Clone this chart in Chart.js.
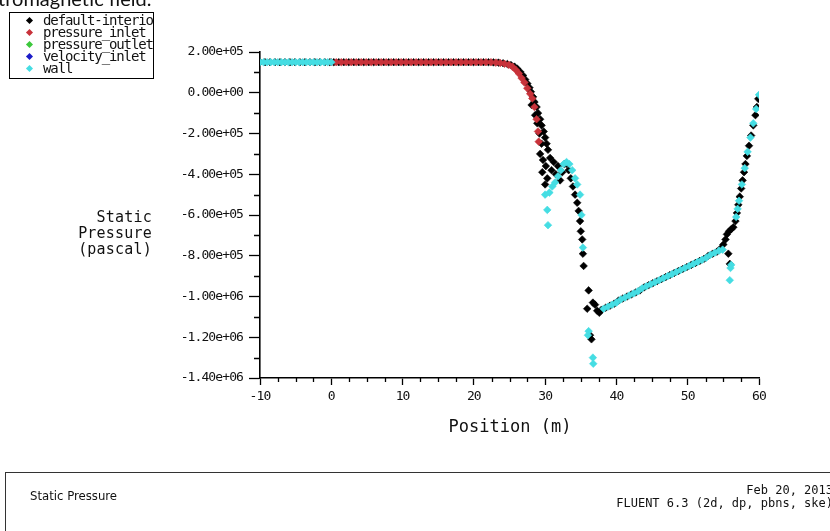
<!DOCTYPE html>
<html>
<head>
<meta charset="utf-8">
<script src="https://cdn.jsdelivr.net/npm/chart.js@4.4.1/dist/chart.umd.min.js"></script>
<style>
html,body{margin:0;padding:0;background:#fff;width:830px;height:531px;overflow:hidden;position:relative;}
canvas{position:absolute;left:0;top:0;}
.abs{position:absolute;white-space:nowrap;color:#111;}
#hdr{left:-2px;top:-12px;font-family:Lato,'Open Sans',sans-serif;font-size:20px;line-height:20px;color:#111;}
#legend{left:9px;top:12px;width:143px;height:65px;border:1.5px solid #000;overflow:hidden;background:#fff;}
.lrow{position:absolute;left:0;height:12px;width:143px;}
.lmk{position:absolute;left:17px;top:3px;width:5px;height:5px;transform:rotate(45deg);}
.ltx{position:absolute;left:33px;top:-3px;font-family:'DejaVu Sans Mono',monospace;font-size:14px;line-height:16px;letter-spacing:-1.1px;color:#111;}
#ytitle{left:40px;top:209px;width:112px;text-align:right;font-family:'DejaVu Sans Mono',monospace;font-size:15px;line-height:16px;letter-spacing:0.2px;}
#xtitle{left:410px;top:416px;width:200px;text-align:center;font-family:'DejaVu Sans Mono',monospace;font-size:17px;line-height:20px;}
#footer{left:5px;top:472px;width:840px;height:80px;border:1.5px solid #333;}
#fl{left:30px;top:488px;font-family:'Liberation Sans Narrow','DejaVu Sans Condensed',sans-serif;font-size:13px;line-height:16px;}
#fr{right:-3px;top:484px;text-align:right;font-family:'DejaVu Sans Mono',monospace;font-size:12px;line-height:13px;}
</style>
</head>
<body>
<canvas id="c" width="830" height="531"></canvas>
<div id="hdr" class="abs">tromagnetic field.</div>
<div id="legend" class="abs"></div>
<div id="ytitle" class="abs">Static<br>Pressure<br>(pascal)</div>
<div id="xtitle" class="abs">Position (m)</div>
<div id="footer" class="abs"></div>
<div id="fl" class="abs">Static Pressure</div>
<div id="fr" class="abs">Feb 20, 2013<br>FLUENT 6.3 (2d, dp, pbns, ske)</div>
<script>
// ---- series names / colours ----
const seriesNames = ['default-interior','pressure_inlet','pressure_outlet','velocity_inlet','wall'];
const seriesColors = ['#000000','#c8323a','#3cc83c','#1c1cc8','#45dde3'];

// ---- axis ----
const xMin = -10, xMax = 60, xStep = 10, xMinorStep = 2.5;
const yMin = -1.4e6, yMax = 2e5, yStep = 2e5, yMinorStep = 1e5;

// ---- default-interior (black) ----
const interiorX = [
 -10,-9.3,-8.6,-7.9,-7.2,-6.5,-5.8,-5.1,-4.4,-3.7,-3.0,-2.3,-1.6,-0.9,-0.2,0.35,1.05,1.75,2.45,3.15,3.85,4.55,5.25,5.95,6.65,7.35,8.05,8.75,9.45,10.15,10.85,11.55,12.25,12.95,13.65,14.35,15.05,15.75,16.45,17.15,17.85,18.55,19.25,19.95,20.65,21.35,22.05,22.75,23.45,
 24.1,24.7,25.2,25.7,26.1,26.5,26.9,27.2,27.5,27.8,28.0,28.3,28.5,28.8,29.0,29.3,29.5,29.8,30.0,30.2,30.4,
 28.1,28.6,28.9,29.2,29.5,29.3,29.7,30.1,29.6,30.3,30.0,30.7,30.9,31.2,31.5,31.8,32.1,32.4,32.7,33.0,33.3,33.6,33.9,34.2,34.5,34.7,34.9,35.0,35.2,35.3,35.4,36.1,35.9,36.3,36.5,36.7,37.0,37.3,37.6,
 37.9,38.5,39.1,39.7,40.3,40.9,41.5,42.1,42.7,43.3,43.9,44.5,45.1,45.7,46.3,46.9,47.5,48.1,48.7,49.3,49.9,50.5,51.1,51.7,52.3,52.9,53.5,54.1,54.6,55.0,55.3,55.5,55.8,56.1,56.4,55.7,55.9,
 56.7,56.9,57.1,57.3,57.5,57.7,57.9,58.1,58.3,58.6,58.9,59.2,59.5,59.7,59.9
];
const interiorY = [
 1.5e5,1.5e5,1.5e5,1.5e5,1.5e5,1.5e5,1.5e5,1.5e5,1.5e5,1.5e5,1.5e5,1.5e5,1.5e5,1.5e5,1.5e5,1.5e5,1.5e5,1.5e5,1.5e5,1.5e5,1.5e5,1.5e5,1.5e5,1.5e5,1.5e5,1.5e5,1.5e5,1.5e5,1.5e5,1.5e5,1.5e5,1.5e5,1.5e5,1.5e5,1.5e5,1.5e5,1.5e5,1.5e5,1.5e5,1.5e5,1.5e5,1.5e5,1.5e5,1.5e5,1.5e5,1.5e5,1.5e5,1.49e5,1.48e5,
 1.45e5,1.41e5,1.36e5,1.28e5,1.18e5,1.03e5,8.5e4,6.5e4,4.5e4,2.5e4,5e3,-2e4,-4.5e4,-7e4,-1.0e5,-1.3e5,-1.6e5,-1.9e5,-2.2e5,-2.5e5,-2.8e5,
 -6e4,-1.1e5,-1.5e5,-2.0e5,-2.5e5,-3.0e5,-3.3e5,-3.6e5,-3.9e5,-4.2e5,-4.5e5,-3.2e5,-3.8e5,-3.4e5,-4.0e5,-3.6e5,-4.3e5,-3.9e5,-3.5e5,-3.5e5,-3.8e5,-4.2e5,-4.6e5,-5.0e5,-5.4e5,-5.8e5,-6.3e5,-6.8e5,-7.2e5,-7.9e5,-8.5e5,-9.7e5,-1.06e6,-1.19e6,-1.21e6,-1.03e6,-1.04e6,-1.07e6,-1.08e6,
 -1.065e6,-1.055e6,-1.045e6,-1.035e6,-1.02e6,-1.01e6,-1.0e6,-9.9e5,-9.8e5,-9.7e5,-9.55e5,-9.45e5,-9.35e5,-9.25e5,-9.15e5,-9.05e5,-8.95e5,-8.85e5,-8.75e5,-8.65e5,-8.55e5,-8.45e5,-8.35e5,-8.25e5,-8.15e5,-8.0e5,-7.9e5,-7.8e5,-7.65e5,-7.45e5,-7.2e5,-6.95e5,-6.8e5,-6.7e5,-6.6e5,-7.9e5,-8.4e5,
 -6.3e5,-5.9e5,-5.5e5,-5.1e5,-4.7e5,-4.3e5,-3.9e5,-3.5e5,-3.1e5,-2.6e5,-2.1e5,-1.6e5,-1.1e5,-7e4,-3e4
];

// ---- pressure_inlet (red) ----
const inletX = [
 0,0.7,1.4,2.1,2.8,3.5,4.2,4.9,5.6,6.3,7.0,7.7,8.4,9.1,9.8,10.5,11.2,11.9,12.6,13.3,14.0,14.7,15.4,16.1,16.8,17.5,18.2,18.9,19.6,20.3,21.0,21.7,22.4,
 23.1,23.7,24.3,24.9,25.4,25.9,26.3,26.7,27.1,27.5,27.9,28.2,28.5,28.8,29.0,29.1
];
const inletY = [
 1.5e5,1.5e5,1.5e5,1.5e5,1.5e5,1.5e5,1.5e5,1.5e5,1.5e5,1.5e5,1.5e5,1.5e5,1.5e5,1.5e5,1.5e5,1.5e5,1.5e5,1.5e5,1.5e5,1.5e5,1.5e5,1.5e5,1.5e5,1.5e5,1.5e5,1.5e5,1.5e5,1.5e5,1.5e5,1.5e5,1.5e5,1.5e5,1.5e5,
 1.48e5,1.46e5,1.42e5,1.37e5,1.28e5,1.12e5,9.5e4,7.2e4,5e4,2.2e4,-5e3,-2.8e4,-7e4,-1.3e5,-1.9e5,-2.4e5
];

// ---- pressure_outlet / velocity_inlet (not visible) ----
const outletX = [], outletY = [];
const velocityX = [], velocityY = [];

// ---- wall (cyan) ----
const wallX = [
 -10,-9.5,-9,-8.5,-8,-7.5,-7,-6.5,-6,-5.5,-5,-4.5,-4,-3.5,-3,-2.5,-2,-1.5,-1,-0.5,0,
 30.0,30.3,30.4,30.6,31.0,31.4,31.8,32.2,32.6,33.0,33.4,33.8,34.2,34.5,34.9,35.1,35.3,36.0,36.1,36.7,36.75,
 38.2,38.8,39.4,40.0,40.6,41.2,41.8,42.4,43.0,43.6,44.2,44.8,45.4,46.0,46.6,47.2,47.8,48.4,49.0,49.6,50.2,50.8,51.4,52.0,52.6,53.2,53.8,54.4,54.9,
 56.0,55.9,56.1,
 56.8,57.0,57.2,57.6,58.0,58.4,58.8,59.2,59.6,60.0
];
const wallY = [
 1.5e5,1.5e5,1.5e5,1.5e5,1.5e5,1.5e5,1.5e5,1.5e5,1.5e5,1.5e5,1.5e5,1.5e5,1.5e5,1.5e5,1.5e5,1.5e5,1.5e5,1.5e5,1.5e5,1.5e5,1.5e5,
 -5.0e5,-5.75e5,-6.5e5,-4.9e5,-4.6e5,-4.4e5,-4.1e5,-3.8e5,-3.5e5,-3.4e5,-3.5e5,-3.8e5,-4.2e5,-4.5e5,-5.0e5,-6.0e5,-7.6e5,-1.19e6,-1.17e6,-1.30e6,-1.33e6,
 -1.06e6,-1.05e6,-1.04e6,-1.03e6,-1.015e6,-1.005e6,-9.95e5,-9.85e5,-9.75e5,-9.6e5,-9.5e5,-9.4e5,-9.3e5,-9.2e5,-9.1e5,-9.0e5,-8.9e5,-8.8e5,-8.7e5,-8.6e5,-8.5e5,-8.4e5,-8.3e5,-8.2e5,-8.1e5,-7.95e5,-7.85e5,-7.75e5,-7.7e5,
 -8.6e5,-9.2e5,-8.45e5,
 -6.1e5,-5.7e5,-5.3e5,-4.5e5,-3.7e5,-2.9e5,-2.2e5,-1.5e5,-8e4,-1e4
];

// ---- legend (HTML) ----
const leg = document.getElementById('legend');
seriesNames.forEach((n,i)=>{
  const r = document.createElement('div'); r.className='lrow'; r.style.top=(2+i*12)+'px';
  const m = document.createElement('div'); m.className='lmk'; m.style.background=seriesColors[i];
  const t = document.createElement('div'); t.className='ltx'; t.textContent=n;
  r.appendChild(m); r.appendChild(t); leg.appendChild(r);
});

const pts = (xs,ys)=>xs.map((x,i)=>({x:x,y:ys[i]}));
const fmt = v => v.toExponential(2).replace(/e([+-])(\d)$/,'e$10$2');

const minorTicks = {
  id:'minorTicks',
  beforeDraw(chart){ chart.ctx.letterSpacing='-0.9px'; },
  afterDraw(chart){
    const ctx=chart.ctx, xs=chart.scales.x, ys=chart.scales.y;
    ctx.save(); ctx.strokeStyle='#000'; ctx.lineWidth=1.3; ctx.beginPath();
    for(let v=xMin; v<=xMax+1e-9; v+=xMinorStep){
      if (Math.abs(v/xStep-Math.round(v/xStep))<1e-9) continue;
      const p=Math.round(xs.getPixelForValue(v))+0.5;
      ctx.moveTo(p,ys.bottom); ctx.lineTo(p,ys.bottom+4);
    }
    for(let v=yMin; v<=yMax+1e-3; v+=yMinorStep){
      if (Math.abs(v/yStep-Math.round(v/yStep))<1e-9) continue;
      const p=Math.round(ys.getPixelForValue(v))+0.5;
      ctx.moveTo(xs.left,p); ctx.lineTo(xs.left-6,p);
    }
    ctx.stroke(); ctx.restore();
  }
};

const ds = (i,xs,ys,order)=>({
  label:seriesNames[i], data:pts(xs,ys), order:order,
  backgroundColor:seriesColors[i], borderColor:seriesColors[i],
  pointStyle:'rectRot', pointRadius:3.8, borderWidth:0.6, showLine:false
});

new Chart(document.getElementById('c'),{
  type:'scatter',
  data:{datasets:[
    ds(0,interiorX,interiorY,5),
    ds(1,inletX,inletY,2),
    ds(2,outletX,outletY,3),
    ds(3,velocityX,velocityY,4),
    ds(4,wallX,wallY,1)
  ]},
  options:{
    responsive:false, animation:false, devicePixelRatio:1,
    layout:{padding:{left:150,top:52,right:71,bottom:113}},
    plugins:{legend:{display:false},tooltip:{enabled:false},title:{display:false}},
    scales:{
      x:{type:'linear',min:xMin,max:xMax,
        afterFit(s){s.height=40;},
        ticks:{stepSize:xStep,color:'#111',padding:4,maxRotation:0,autoSkip:false,
          font:{family:'DejaVu Sans Mono',size:13}},
        grid:{drawOnChartArea:false,drawTicks:true,tickLength:7,tickColor:'#000',tickWidth:1.3},
        border:{display:true,color:'#000',width:1.6}},
      y:{type:'linear',min:yMin,max:yMax,
        afterFit(s){s.width=110;},
        ticks:{stepSize:yStep,color:'#111',padding:6,callback:fmt,
          font:{family:'DejaVu Sans Mono',size:13}},
        grid:{drawOnChartArea:false,drawTicks:true,tickLength:11,tickColor:'#000',tickWidth:1.3},
        border:{display:true,color:'#000',width:1.6}}
    }
  },
  plugins:[minorTicks]
});
</script>
</body>
</html>
